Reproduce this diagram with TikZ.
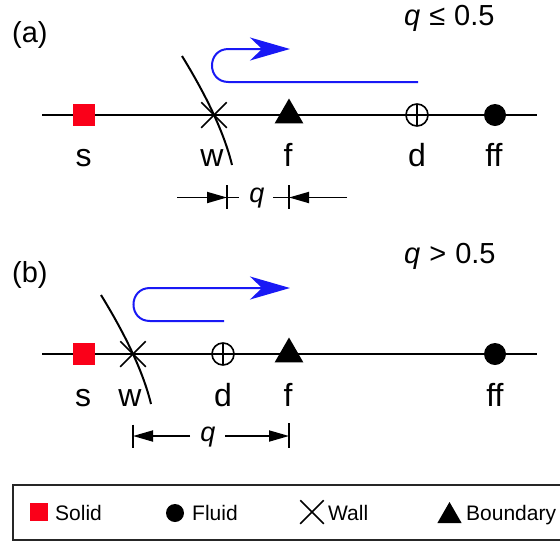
\documentclass[tikz,border=0pt]{standalone}
\usepackage{fontspec}
\setmainfont{Liberation Sans}
\usetikzlibrary{arrows.meta,shapes.geometric,shapes.misc,calc}
\definecolor{solidred}{RGB}{250,0,25}
\definecolor{flowblue}{RGB}{25,25,245}
\begin{document}
\begin{tikzpicture}[x=1pt,y=-1pt,
  axis/.style={line width=2pt},
  solidpt/.style={rectangle,fill=solidred,minimum size=22pt,inner sep=0pt},
  fluidpt/.style={circle,fill=black,minimum size=22pt,inner sep=0pt},
  wallpt/.style={cross out,draw,line width=1.5pt,minimum size=24pt,inner sep=0pt},
  bndpt/.style={regular polygon,regular polygon sides=3,fill=black,minimum size=33pt,inner sep=0pt},
  dpt/.style={circle,draw,line width=1.6pt,minimum size=22pt,inner sep=0pt,
    path picture={\draw[line width=1.6pt] (path picture bounding box.north) -- (path picture bounding box.south)
      (path picture bounding box.west) -- (path picture bounding box.east);}},
  lbl/.style={anchor=base,inner sep=0pt,font=\fontsize{32}{34}\selectfont},
  dimq/.style={anchor=base,inner sep=0pt,font=\fontsize{27}{30}\selectfont},
  panel/.style={anchor=base west,inner sep=0pt,font=\fontsize{29}{32}\selectfont},
  wallcurve/.style={line width=2pt},
  flow/.style={draw=flowblue,line width=2pt,-{Stealth[length=40pt,width=23pt,inset=12pt]}},
  dimline/.style={line width=1.8pt},
  dimarrow/.style={line width=1.8pt,-{Triangle[length=20pt,width=11pt]}},
  legtext/.style={anchor=base west,inner sep=0pt,font=\fontsize{21}{24}\selectfont},
]
\clip (0,0) rectangle (560,542);

% ---------- panel (a)
\node[panel] (pa) at (12,42.3) {(a)};
\node[panel] (qa) at (404,25) {\textit{q}\kern9pt≤\kern9pt0.5};
\coordinate (a0) at (42,115);
\coordinate (a1) at (537,115);
\draw[axis] (a0) -- (a1);
\node[solidpt] (sa) at (84,115) {};
\node[wallpt] (wa) at (214,115) {};
\node[bndpt] (fa) at (289,115) {};
\node[dpt] (da) at (417,115) {};
\node[fluidpt] (ffa) at (495,115) {};
\draw[wallcurve] ($(wa.center)+(-32,-59)$) .. controls ($(wa.center)+(-6,-16.7)$) and ($(wa.center)+(10.7,19.7)$) .. ($(wa.center)+(18,50)$);
\node[lbl] (lsa) at (83.5,166) {s};
\node[lbl] (lwa) at (212,166) {w};
\node[lbl] (lfa) at (288,166) {f};
\node[lbl] (lda) at (417,166) {d};
\node[lbl] (lffa) at (494,166) {ff};
% flow (a)
\coordinate (ua0) at (418,82);
\coordinate (ua1) at (228.5,82);
\coordinate (ua2) at (228.5,49);
\coordinate (ua3) at (290,49);
\draw[flow] (ua0) -- (ua1) .. controls ($(ua1)+(-22,0)$) and ($(ua2)+(-22,0)$) .. (ua2) -- (ua3);
% dimension (a)
\coordinate (ta1) at (227,197.5);
\coordinate (ta2) at (289,197.5);
\coordinate (ea1) at (177,197.5);
\coordinate (ea2) at (347,197.5);
\draw[dimarrow] (ea1) -- (ta1);
\draw[dimarrow] (ea2) -- (ta2);
\draw[dimline] ($(ta1)+(0,-12.5)$) -- ($(ta1)+(0,11.5)$);
\draw[dimline] ($(ta2)+(0,-12.5)$) -- ($(ta2)+(0,11.5)$);
\draw[dimline] (ta1) -- ($(ta1)+(12,0)$);
\draw[dimline] (ta2) -- ($(ta2)+(-16,0)$);
\node[dimq] (qda) at (257,202) {\textit{q}};

% ---------- panel (b)
\node[panel] (pb) at (12,282) {(b)};
\node[panel] (qb) at (404,263) {\textit{q}\kern9pt>\kern9pt0.5};
\coordinate (b0) at (42,354);
\coordinate (b1) at (537,354);
\draw[axis] (b0) -- (b1);
\node[solidpt] (sb) at (84,354) {};
\node[wallpt] (wb) at (133,354) {};
\node[dpt] (db) at (223,354) {};
\node[bndpt] (fb) at (289,354) {};
\node[fluidpt] (ffb) at (495,354) {};
\draw[wallcurve] ($(wb.center)+(-32,-59)$) .. controls ($(wb.center)+(-6,-16.7)$) and ($(wb.center)+(10.7,19.7)$) .. ($(wb.center)+(18,50)$);
\node[lbl] (lsb) at (83,406) {s};
\node[lbl] (lwb) at (130,406) {w};
\node[lbl] (ldb) at (223,406) {d};
\node[lbl] (lfb) at (288,406) {f};
\node[lbl] (lffb) at (495,406) {ff};
% flow (b)
\coordinate (ub0) at (224,321);
\coordinate (ub1) at (150,321);
\coordinate (ub2) at (150,288);
\coordinate (ub3) at (290,288);
\draw[flow] (ub0) -- (ub1) .. controls ($(ub1)+(-22,0)$) and ($(ub2)+(-22,0)$) .. (ub2) -- (ub3);
% dimension (b)
\coordinate (tb1) at (133,436);
\coordinate (tb2) at (289,436);
\coordinate (eb1) at (190,436);
\coordinate (eb2) at (225,436);
\draw[dimarrow] (eb1) -- (tb1);
\draw[dimarrow] (eb2) -- (tb2);
\draw[dimline] ($(tb1)+(0,-11.5)$) -- ($(tb1)+(0,12)$);
\draw[dimline] ($(tb2)+(0,-13)$) -- ($(tb2)+(0,12)$);
\node[dimq] (qdb) at (208,441) {\textit{q}};

% ---------- legend
\node[draw=black!85,line width=2.2pt,minimum width=554pt,minimum height=55pt,anchor=north west,inner sep=0pt] (legend) at (12,484) {};
\node[solidpt,minimum size=18pt] (lgs) at (39,512) {};
\node[legtext] (lgst) at (55,520) {Solid};
\node[fluidpt,minimum size=18pt] (lgf) at (175,513) {};
\node[legtext] (lgft) at (192,520) {Fluid};
\node[wallpt,minimum size=22pt,line width=1.5pt] (lgw) at (312,512) {};
\node[legtext] (lgwt) at (328,520) {Wall};
\node[bndpt,minimum size=28pt] (lgb) at (449.5,516) {};
\node[legtext] (lgbt) at (466,520) {Boundary};
\end{tikzpicture}
\end{document}
